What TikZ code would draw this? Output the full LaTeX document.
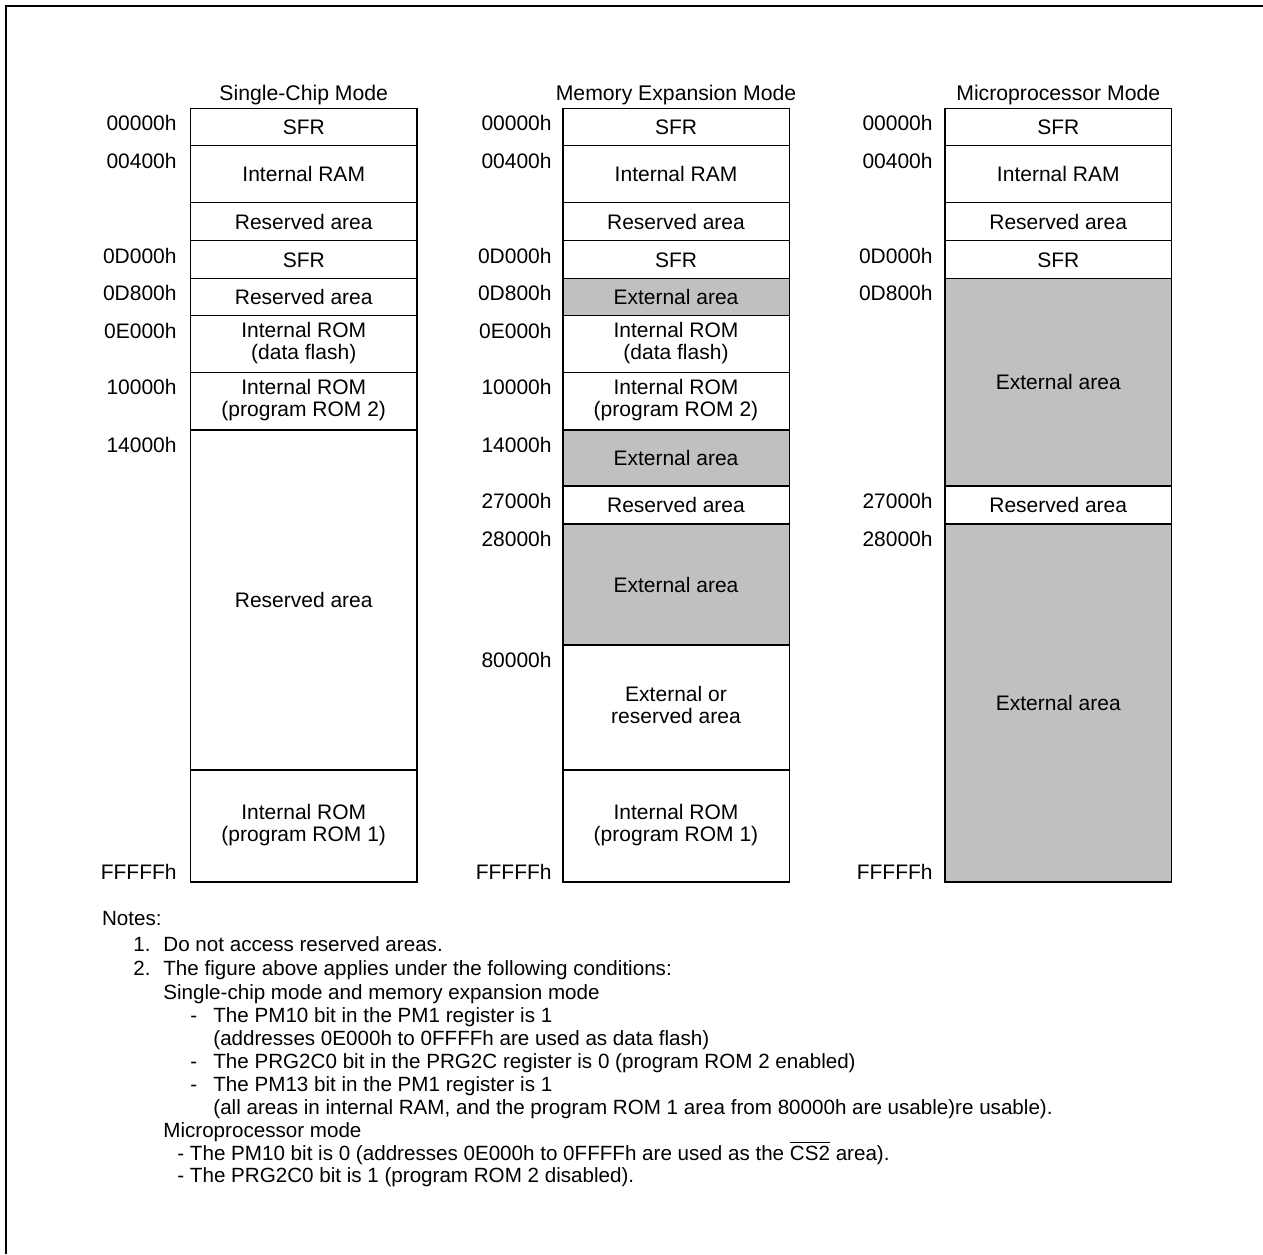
\documentclass[tikz,border=0pt]{standalone}
\usepackage{fontspec}
\setmainfont{Liberation Sans}
\definecolor{extgray}{HTML}{C0C0C0}
\tikzset{
  membox/.style={draw=black,line width=0.75pt,fill=white},
  extbox/.style={draw=black,line width=0.75pt,fill=extgray},
  mtxt/.style={font=\fontsize{10.5}{11.7}\selectfont,inner sep=0pt,text height=7.5pt,text depth=0pt},
  addrlbl/.style={font=\fontsize{10.5}{11.7}\selectfont,inner sep=0pt,anchor=base east},
  ttl/.style={font=\fontsize{10.6}{11.7}\selectfont,inner sep=0pt,anchor=base},
  note/.style={font=\fontsize{10.3}{11.7}\selectfont,inner sep=0pt,anchor=base west}
}
\newcommand\memone[4]{\node[mtxt] (#1) at (#2,#3) {#4};}
\newcommand\memtwo[5]{%
  \node[mtxt] (#1a) at (#2,{#3-14}) {#4};
  \node[mtxt] (#1b) at (#2,{#3+8}) {#5};}
\newcommand\addr[4]{\node[addrlbl] (#1) at (#2,{#3+22.5}) {#4};}
\begin{document}
\begin{tikzpicture}[x=0.5pt,y=-0.5pt]
\useasboundingbox (0,0) rectangle (1263,1254);
\fill[white] (0,0) rectangle (1263,1254);
\draw[line width=1.15pt] (6.2,1254) -- (6.2,6.2) -- (1263,6.2);

% ---------- Column 1: Single-Chip Mode ----------
\def\xl{190.5}\def\xr{417}\def\xc{303.75}
\node[ttl] (t1) at (\xc,100) {Single-Chip Mode};
\draw[membox] (\xl,108.3) rectangle (\xr,145.7);
\draw[membox] (\xl,145.7) rectangle (\xr,202.7);
\draw[membox] (\xl,202.7) rectangle (\xr,240.7);
\draw[membox] (\xl,240.7) rectangle (\xr,278.3);
\draw[membox] (\xl,278.3) rectangle (\xr,315.7);
\draw[membox] (\xl,315.7) rectangle (\xr,372.3);
\draw[membox] (\xl,372.3) rectangle (\xr,430);
\draw[membox] (\xl,430) rectangle (\xr,770);
\draw[membox] (\xl,770) rectangle (\xr,882);
\memone{c1sfr}{\xc}{127}{SFR}
\memone{c1ram}{\xc}{174.2}{Internal RAM}
\memone{c1res}{\xc}{221.7}{Reserved area}
\memone{c1sfrb}{\xc}{259.5}{SFR}
\memone{c1resb}{\xc}{297}{Reserved area}
\memtwo{c1df}{\xc}{344}{Internal ROM}{(data flash)}
\memtwo{c1pr}{\xc}{401}{Internal ROM}{(program ROM 2)}
\memone{c1resc}{\xc}{600}{Reserved area}
\memtwo{c1pa}{\xc}{826}{Internal ROM}{(program ROM 1)}
\addr{a10}{177}{108.3}{00000h}
\addr{a11}{177}{145.7}{00400h}
\addr{a12}{177}{240.7}{0D000h}
\addr{a13}{177}{278.3}{0D800h}
\addr{a14}{177}{315.7}{0E000h}
\addr{a15}{177}{372.3}{10000h}
\addr{a16}{177}{430}{14000h}
\node[addrlbl] (a17) at (177,879) {FFFFFh};

% ---------- Column 2: Memory Expansion Mode ----------
\def\xl{562.8}\def\xr{789.3}\def\xc{676}
\node[ttl] (t2) at (\xc,100) {Memory Expansion Mode};
\draw[membox] (\xl,108.3) rectangle (\xr,145.7);
\draw[membox] (\xl,145.7) rectangle (\xr,202.7);
\draw[membox] (\xl,202.7) rectangle (\xr,240.7);
\draw[membox] (\xl,240.7) rectangle (\xr,278.3);
\draw[extbox] (\xl,278.3) rectangle (\xr,315.7);
\draw[membox] (\xl,315.7) rectangle (\xr,372.3);
\draw[membox] (\xl,372.3) rectangle (\xr,430);
\draw[extbox] (\xl,430) rectangle (\xr,486);
\draw[membox] (\xl,486) rectangle (\xr,524);
\draw[extbox] (\xl,524) rectangle (\xr,645);
\draw[membox] (\xl,645) rectangle (\xr,770);
\draw[membox] (\xl,770) rectangle (\xr,882);
\memone{c2sfr}{\xc}{127}{SFR}
\memone{c2ram}{\xc}{174.2}{Internal RAM}
\memone{c2res}{\xc}{221.7}{Reserved area}
\memone{c2sfrb}{\xc}{259.5}{SFR}
\memone{c2ext}{\xc}{297}{External area}
\memtwo{c2df}{\xc}{344}{Internal ROM}{(data flash)}
\memtwo{c2pr}{\xc}{401}{Internal ROM}{(program ROM 2)}
\memone{c2extb}{\xc}{458}{External area}
\memone{c2resb}{\xc}{505}{Reserved area}
\memone{c2extc}{\xc}{584.5}{External area}
\memtwo{c2eor}{\xc}{707.5}{External or}{reserved area}
\memtwo{c2pa}{\xc}{826}{Internal ROM}{(program ROM 1)}
\addr{a20}{552}{108.3}{00000h}
\addr{a21}{552}{145.7}{00400h}
\addr{a22}{552}{240.7}{0D000h}
\addr{a23}{552}{278.3}{0D800h}
\addr{a24}{552}{315.7}{0E000h}
\addr{a25}{552}{372.3}{10000h}
\addr{a26}{552}{430}{14000h}
\addr{a27}{552}{486}{27000h}
\addr{a28}{552}{524}{28000h}
\addr{a29}{552}{645}{80000h}
\node[addrlbl] (a2f) at (552,879) {FFFFFh};

% ---------- Column 3: Microprocessor Mode ----------
\def\xl{945}\def\xr{1171.5}\def\xc{1058.25}
\node[ttl] (t3) at (\xc,100) {Microprocessor Mode};
\draw[membox] (\xl,108.3) rectangle (\xr,145.7);
\draw[membox] (\xl,145.7) rectangle (\xr,202.7);
\draw[membox] (\xl,202.7) rectangle (\xr,240.7);
\draw[membox] (\xl,240.7) rectangle (\xr,278.3);
\draw[extbox] (\xl,278.3) rectangle (\xr,486);
\draw[membox] (\xl,486) rectangle (\xr,524);
\draw[extbox] (\xl,524) rectangle (\xr,882);
\memone{c3sfr}{\xc}{127}{SFR}
\memone{c3ram}{\xc}{174.2}{Internal RAM}
\memone{c3res}{\xc}{221.7}{Reserved area}
\memone{c3sfrb}{\xc}{259.5}{SFR}
\memone{c3ext}{\xc}{382}{External area}
\memone{c3resb}{\xc}{505}{Reserved area}
\memone{c3extb}{\xc}{703}{External area}
\addr{a30}{933}{108.3}{00000h}
\addr{a31}{933}{145.7}{00400h}
\addr{a32}{933}{240.7}{0D000h}
\addr{a33}{933}{278.3}{0D800h}
\addr{a34}{933}{486}{27000h}
\addr{a35}{933}{524}{28000h}
\node[addrlbl] (a3f) at (933,879) {FFFFFh};

% ---------- Notes ----------
\node[note] (n0) at (101.7,925) {Notes:};
\node[note] (n1a) at (133,951) {1.};
\node[note] (n1) at (163,951) {Do not access reserved areas.};
\node[note] (n2a) at (133,975) {2.};
\node[note] (n2) at (163,975) {The figure above applies under the following conditions:};
\node[note] (n3) at (163,999) {Single-chip mode and memory expansion mode};
\node[note] (n4a) at (190,1022) {-};
\node[note] (n4) at (213,1022) {The PM10 bit in the PM1 register is 1};
\node[note] (n5) at (213,1045) {(addresses 0E000h to 0FFFFh are used as data flash)};
\node[note] (n6a) at (190,1068) {-};
\node[note] (n6) at (213,1068) {The PRG2C0 bit in the PRG2C register is 0 (program ROM 2 enabled)};
\node[note] (n7a) at (190,1091) {-};
\node[note] (n7) at (213,1091) {The PM13 bit in the PM1 register is 1};
\node[note] (n8) at (213,1114) {(all areas in internal RAM, and the program ROM 1 area from 80000h are usable)re usable).};
\node[note] (n9) at (163,1137) {Microprocessor mode};
\node[note] (n10) at (177,1160) {- The PM10 bit is 0 (addresses 0E000h to 0FFFFh are used as the $\overline{\mbox{CS2}}$ area).};
\node[note] (n11) at (177,1182) {- The PRG2C0 bit is 1 (program ROM 2 disabled).};
\end{tikzpicture}
\end{document}
